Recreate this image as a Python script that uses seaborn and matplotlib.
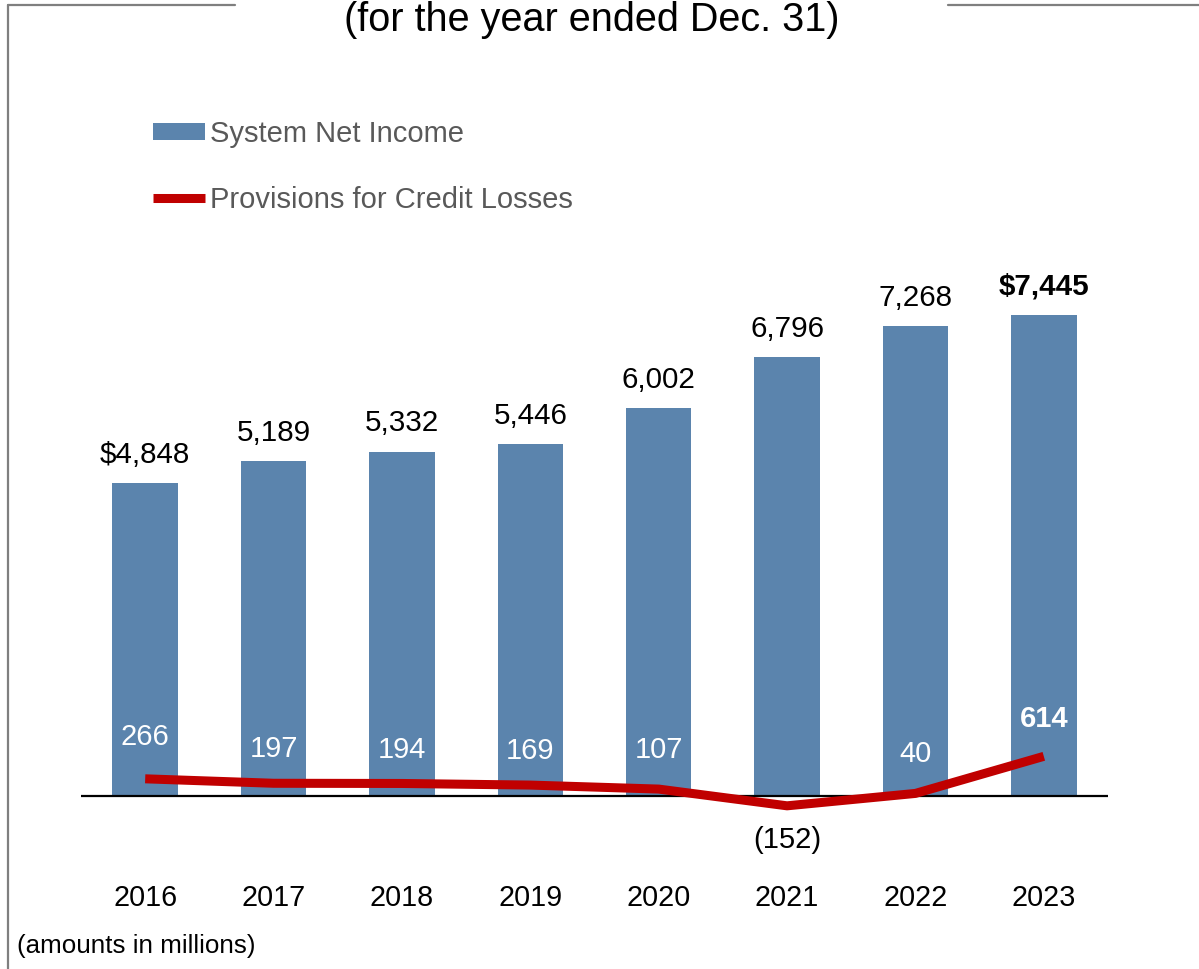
import numpy as np
import pandas as pd
import matplotlib
matplotlib.use("Agg")
import matplotlib.pyplot as plt
import seaborn as sns
from matplotlib.lines import Line2D
from matplotlib.patches import Patch

# data
years = ["2016", "2017", "2018", "2019", "2020", "2021", "2022", "2023"]
net_income = [4848, 5189, 5332, 5446, 6002, 6796, 7268, 7445]
net_income_labels = ["$4,848", "5,189", "5,332", "5,446", "6,002", "6,796", "7,268", "$7,445"]
provisions = [266, 197, 194, 169, 107, -152, 40, 614]
provision_labels = ["266", "197", "194", "169", "107", "(152)", "40", "614"]

bar_color = "#5B84AD"
line_color = "#C00000"
legend_gray = "#595959"

sns.set_style("white")
plt.rcParams["font.family"] = ["Liberation Sans", "DejaVu Sans"]
plt.rcParams["text.color"] = "black"

W, H = 1199, 969
fig = plt.figure(figsize=(W / 100, H / 100), dpi=100)

# axes placed in pixels: zero line at y=796, $7,445 bar top at y=315
ax_left, ax_right, ax_top, ax_bottom = 81, 1108, 250, 860
zero_px, top_px = 796, 315
units_per_px = net_income[-1] / (zero_px - top_px)
ax = fig.add_axes([ax_left / W, 1 - ax_bottom / H, (ax_right - ax_left) / W, (ax_bottom - ax_top) / H])

df = pd.DataFrame({"year": years, "income": net_income, "prov": provisions})
sns.barplot(data=df, x="year", y="income", color=bar_color, width=0.51, saturation=1, linewidth=0,
            ax=ax, zorder=2)
sns.lineplot(x=np.arange(len(years)), y=df["prov"], color=line_color, linewidth=6.5, ax=ax, zorder=5,
             solid_capstyle="butt")

ax.set_xlim(-0.5, len(years) - 0.5)
ax.set_ylim(-(ax_bottom - zero_px) * units_per_px, (zero_px - ax_top) * units_per_px)
ax.axhline(0, color="black", linewidth=1.6, zorder=3)

for s in ax.spines.values():
    s.set_visible(False)
ax.set_yticks([])
ax.set_xticks(range(len(years)))
ax.set_xticklabels(years, fontsize=20.7, color="black")
ax.tick_params(axis="x", length=0, pad=17.5)
ax.set_xlabel("")
ax.set_ylabel("")

# bar value labels
for i, (v, lab) in enumerate(zip(net_income, net_income_labels)):
    ax.annotate(lab, (i, v), xytext=(0, 14.5), textcoords="offset points", ha="center", va="baseline",
                fontsize=21.3, color="black", fontweight="bold" if i == len(years) - 1 else "normal")

# line value labels (baseline offsets in points, as placed in the original)
prov_offsets = [24.3, 18.7, 18.1, 18.6, 22.2, -30.4, 22.8, 21.3]
for i, (v, lab, off) in enumerate(zip(provisions, provision_labels, prov_offsets)):
    col = "black" if v < 0 else "white"
    ax.annotate(lab, (i, v), xytext=(0, off), textcoords="offset points", ha="center", va="baseline",
                fontsize=21, color=col, fontweight="bold" if i == len(years) - 1 else "normal", zorder=6)

# legend
handles = [Patch(facecolor=bar_color, edgecolor="none"),
           Line2D([0], [0], color=line_color, linewidth=6.5, solid_capstyle="butt")]
fig.legend(handles, ["System Net Income", "Provisions for Credit Losses"], loc="upper left",
           bbox_to_anchor=(153 / W, 1 - 120 / H), frameon=False, fontsize=21, labelcolor=legend_gray,
           handlelength=1.78, handleheight=0.52, handletextpad=0.18, labelspacing=1.3, borderpad=0,
           borderaxespad=0)

# title and note
fig.text(591.5 / W, 1 - 20 / H, "(for the year ended Dec. 31)", ha="center", va="center", fontsize=28.5)
fig.text(17 / W, 1 - 946 / H, "(amounts in millions)", ha="left", va="center", fontsize=18.7)

# frame lines
frame_kw = dict(color="#7F7F7F", linewidth=1.6, transform=fig.transFigure)
fig.add_artist(Line2D([8 / W, 8 / W], [1 - 5 / H, 0], **frame_kw))
fig.add_artist(Line2D([8 / W, 235 / W], [1 - 5 / H, 1 - 5 / H], **frame_kw))
fig.add_artist(Line2D([948 / W, 1], [1 - 5 / H, 1 - 5 / H], **frame_kw))

fig.savefig("out.png", dpi=100)
